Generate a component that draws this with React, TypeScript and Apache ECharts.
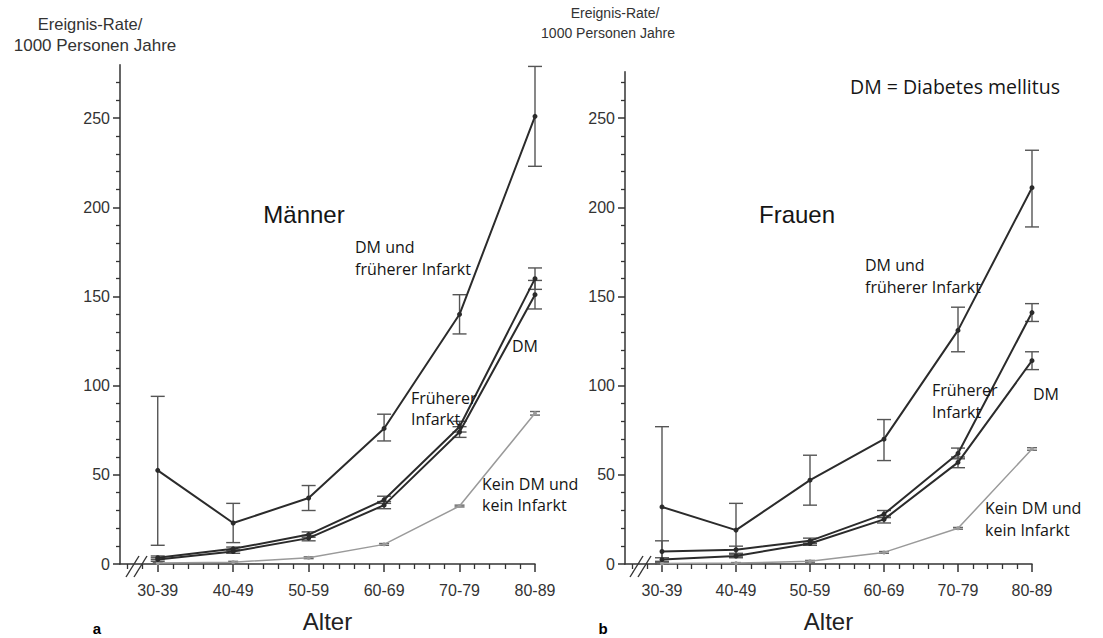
import React, { useEffect, useRef } from 'react';
import * as echarts from 'echarts';

// ---------- data ----------
const categories = ['30-39', '40-49', '50-59', '60-69', '70-79', '80-89'];
const yMajorTicks = [0, 50, 100, 150, 200, 250];

// Männer
const menDMInfarkt = [52.5, 23, 37, 76, 140, 251];
const menDMInfarktLow = [10.5, 12, 30, 69, 129, 223];
const menDMInfarktHigh = [94, 34, 44, 84, 151, 279];
const menInfarkt = [3.5, 8.5, 16.5, 36, 77, 160];
const menInfarktLow = [2.5, 7.5, 15, 34, 74, 154];
const menInfarktHigh = [4.5, 9.5, 18, 38, 80, 166];
const menDM = [2.5, 7, 14.5, 33, 74, 151];
const menDMLow = [1.5, 6, 13, 31, 71, 143];
const menDMHigh = [3.5, 8, 16, 35, 77, 159];
const menNone = [0.5, 1, 3.5, 11, 32.5, 84.5];
const menNoneLow = [0.2, 0.5, 3, 10.5, 32, 83.5];
const menNoneHigh = [0.8, 1.5, 4, 11.5, 33, 85.5];

// Frauen
const womDMInfarkt = [32, 19, 47, 70, 131, 211];
const womDMInfarktLow = [0, 4, 33, 58, 119, 189];
const womDMInfarktHigh = [77, 34, 61, 81, 144, 232];
const womInfarkt = [7, 8, 13, 28, 62, 141];
const womInfarktLow = [1, 6, 11.5, 26, 59, 136];
const womInfarktHigh = [13, 10, 14.5, 30, 65, 146];
const womDM = [2.5, 4.5, 11.5, 25, 57, 114];
const womDMLow = [1.5, 3.5, 10.5, 23, 54, 109];
const womDMHigh = [3.5, 5.5, 12.5, 27, 60, 119];
const womNone = [0.3, 0.5, 1.5, 6.5, 20, 64.5];
const womNoneLow = [0.1, 0.2, 1, 6, 19.5, 63.8];
const womNoneHigh = [0.5, 0.8, 2, 7, 20.5, 65.2];

const DARK = '#2b2b2b';
const GRAY = '#9a9a9a';
const AXIS = '#333';
const SANS = 'Liberation Sans, Arial, sans-serif';
const MYR = 'Open Sans, Noto Sans, sans-serif';

function lineSeries(p: number, values: number[], color: string, width: number, size: number) {
  return {
    type: 'line',
    xAxisIndex: p * 2,
    yAxisIndex: p * 2,
    data: values.map((v, i) => [i, v]),
    lineStyle: { color, width },
    itemStyle: { color },
    symbol: 'circle',
    symbolSize: size,
    silent: true,
    z: 3,
  };
}

function errSeries(p: number, low: number[], high: number[], color: string, cap: number) {
  return {
    type: 'custom',
    xAxisIndex: p * 2,
    yAxisIndex: p * 2,
    encode: { x: 0, y: [1, 2] },
    data: low.map((l, i) => [i, l, high[i]]),
    silent: true,
    z: 2,
    renderItem: (_params: any, api: any) => {
      const x = api.value(0);
      const lo = api.coord([x, api.value(1)]);
      const hi = api.coord([x, api.value(2)]);
      const style = { stroke: color, lineWidth: 1.4 };
      return {
        type: 'group',
        children: [
          { type: 'line', shape: { x1: lo[0], y1: lo[1], x2: hi[0], y2: hi[1] }, style },
          { type: 'line', shape: { x1: lo[0] - cap, y1: lo[1], x2: lo[0] + cap, y2: lo[1] }, style },
          { type: 'line', shape: { x1: hi[0] - cap, y1: hi[1], x2: hi[0] + cap, y2: hi[1] }, style },
        ],
      };
    },
  };
}

const catPos = categories.map((_, i) => i);
const xMinor: number[] = [];
for (let i = -1; i < categories.length - 1; i++) {
  for (let k = 1; k <= 4; k++) {
    const v = Math.round((i + k * 0.2) * 10) / 10;
    if (v > -0.5) xMinor.push(v);
  }
}
const yMinor: number[] = [];
for (let v = 10; v <= 270; v += 10) if (v % 50 !== 0) yMinor.push(v);

function axesFor(p: number, yMax: number) {
  const xMain = {
    type: 'value', gridIndex: p, min: -0.5, max: 5, position: 'bottom',
    axisLine: { show: true, onZero: false, lineStyle: { color: AXIS, width: 1.5 } },
    axisTick: { show: true, customValues: catPos, length: 8, lineStyle: { color: AXIS, width: 1.5 } },
    axisLabel: {
      show: true, customValues: catPos, formatter: (v: number) => categories[Math.round(v)] ?? '',
      fontSize: 16, color: AXIS, fontFamily: SANS, margin: 18,
    },
    splitLine: { show: false },
    name: 'Alter', nameLocation: 'middle', nameGap: 45,
    nameTextStyle: { fontSize: 24, color: '#222', fontFamily: SANS },
  };
  const xMin = {
    type: 'value', gridIndex: p, min: -0.5, max: 5, position: 'bottom',
    axisLine: { show: false, onZero: false },
    axisTick: { show: true, customValues: xMinor, length: 5, lineStyle: { color: AXIS, width: 1.3 } },
    axisLabel: { show: false },
    splitLine: { show: false },
  };
  const yMain = {
    type: 'value', gridIndex: p, min: 0, max: yMax, position: 'left',
    axisLine: { show: true, onZero: false, lineStyle: { color: AXIS, width: 1.5 } },
    axisTick: { show: true, customValues: yMajorTicks, length: 7, lineStyle: { color: AXIS, width: 1.5 } },
    axisLabel: { show: true, customValues: yMajorTicks, fontSize: 16, color: AXIS, fontFamily: SANS, margin: 10 },
    splitLine: { show: false },
  };
  const yMin = {
    type: 'value', gridIndex: p, min: 0, max: yMax, position: 'left',
    axisLine: { show: false, onZero: false },
    axisTick: { show: true, customValues: yMinor, length: 4, lineStyle: { color: AXIS, width: 1.3 } },
    axisLabel: { show: false },
    splitLine: { show: false },
  };
  return { x: [xMain, xMin], y: [yMain, yMin] };
}

function txt(x: number, y: number, text: string, size: number, font: string, extra: any = {}) {
  return {
    type: 'text', x, y,
    style: { text, fontSize: size, fontFamily: font, fill: '#151515', textVerticalAlign: 'middle', ...extra },
    silent: true, z: 10,
  };
}

function breakMark(x0: number) {
  const st = { stroke: AXIS, lineWidth: 1.4 };
  return [
    { type: 'line', shape: { x1: x0, y1: 577, x2: x0 + 13, y2: 556 }, style: st, z: 10 },
    { type: 'line', shape: { x1: x0 + 8, y1: 577, x2: x0 + 21, y2: 556 }, style: st, z: 10 },
  ];
}

export default function App() {
  const ref = useRef<HTMLDivElement>(null);
  useEffect(() => {
    document.body.style.margin = '0';
    if (!ref.current) return;
    const chart = echarts.init(ref.current, null, { renderer: 'svg' });
    const a0 = axesFor(0, 280);
    const a1 = axesFor(1, 276);
    const option: any = {
      animation: false,
      backgroundColor: '#fff',
      grid: [
        { left: 120, top: 565 - 280 * 1.787, width: 415, height: 280 * 1.787 },
        { left: 625, top: 565 - 276 * 1.787, width: 407, height: 276 * 1.787 },
      ],
      xAxis: [...a0.x, ...a1.x],
      yAxis: [...a0.y, ...a1.y],
      series: [
        errSeries(0, menDMInfarktLow, menDMInfarktHigh, '#555', 7),
        errSeries(0, menInfarktLow, menInfarktHigh, '#555', 7),
        errSeries(0, menDMLow, menDMHigh, '#555', 7),
        errSeries(0, menNoneLow, menNoneHigh, '#666', 5),
        lineSeries(0, menNone, GRAY, 1.5, 4),
        lineSeries(0, menDM, DARK, 2, 5),
        lineSeries(0, menInfarkt, DARK, 2, 5),
        lineSeries(0, menDMInfarkt, DARK, 2, 5),
        errSeries(1, womDMInfarktLow, womDMInfarktHigh, '#555', 7),
        errSeries(1, womInfarktLow, womInfarktHigh, '#555', 7),
        errSeries(1, womDMLow, womDMHigh, '#555', 7),
        errSeries(1, womNoneLow, womNoneHigh, '#666', 5),
        lineSeries(1, womNone, GRAY, 1.5, 4),
        lineSeries(1, womDM, DARK, 2, 5),
        lineSeries(1, womInfarkt, DARK, 2, 5),
        lineSeries(1, womDMInfarkt, DARK, 2, 5),
      ],
      graphic: [
        txt(90, 24, 'Ereignis-Rate/', 16.5, SANS, { textAlign: 'center', fill: '#333' }),
        txt(95, 45, '1000 Personen Jahre', 17, SANS, { textAlign: 'center', fill: '#333' }),
        txt(615, 13, 'Ereignis-Rate/', 14, SANS, { textAlign: 'center', fill: '#333' }),
        txt(608, 33, '1000 Personen Jahre', 14, SANS, { textAlign: 'center', fill: '#333' }),
        txt(850, 86, 'DM = Diabetes mellitus', 19.5, MYR),
        txt(304, 214, 'Männer', 24, SANS, { textAlign: 'center' }),
        txt(797, 214, 'Frauen', 24, SANS, { textAlign: 'center' }),
        txt(355, 247, 'DM und', 16, MYR),
        txt(355, 269, 'früherer Infarkt', 16, MYR),
        txt(512, 346, 'DM', 16, MYR),
        txt(411, 398, 'Früherer', 16, MYR),
        txt(411, 419, 'Infarkt', 16, MYR),
        txt(482, 484, 'Kein DM und', 16, MYR),
        txt(482, 505, 'kein Infarkt', 16, MYR),
        txt(865, 265, 'DM und', 16, MYR),
        txt(865, 287, 'früherer Infarkt', 16, MYR),
        txt(932, 390, 'Früherer', 16, MYR),
        txt(932, 412, 'Infarkt', 16, MYR),
        txt(1033, 394, 'DM', 16, MYR),
        txt(985, 508, 'Kein DM und', 16, MYR),
        txt(985, 530, 'kein Infarkt', 16, MYR),
        txt(97, 628, 'a', 15, SANS, { textAlign: 'center', fontWeight: 'bold', fill: '#000' }),
        txt(603, 628, 'b', 15, SANS, { textAlign: 'center', fontWeight: 'bold', fill: '#000' }),
        ...breakMark(126),
        ...breakMark(630),
      ],
    };
    chart.setOption(option);
    return () => chart.dispose();
  }, []);
  return <div ref={ref} style={{ width: 1103, height: 638 }} />;
}
